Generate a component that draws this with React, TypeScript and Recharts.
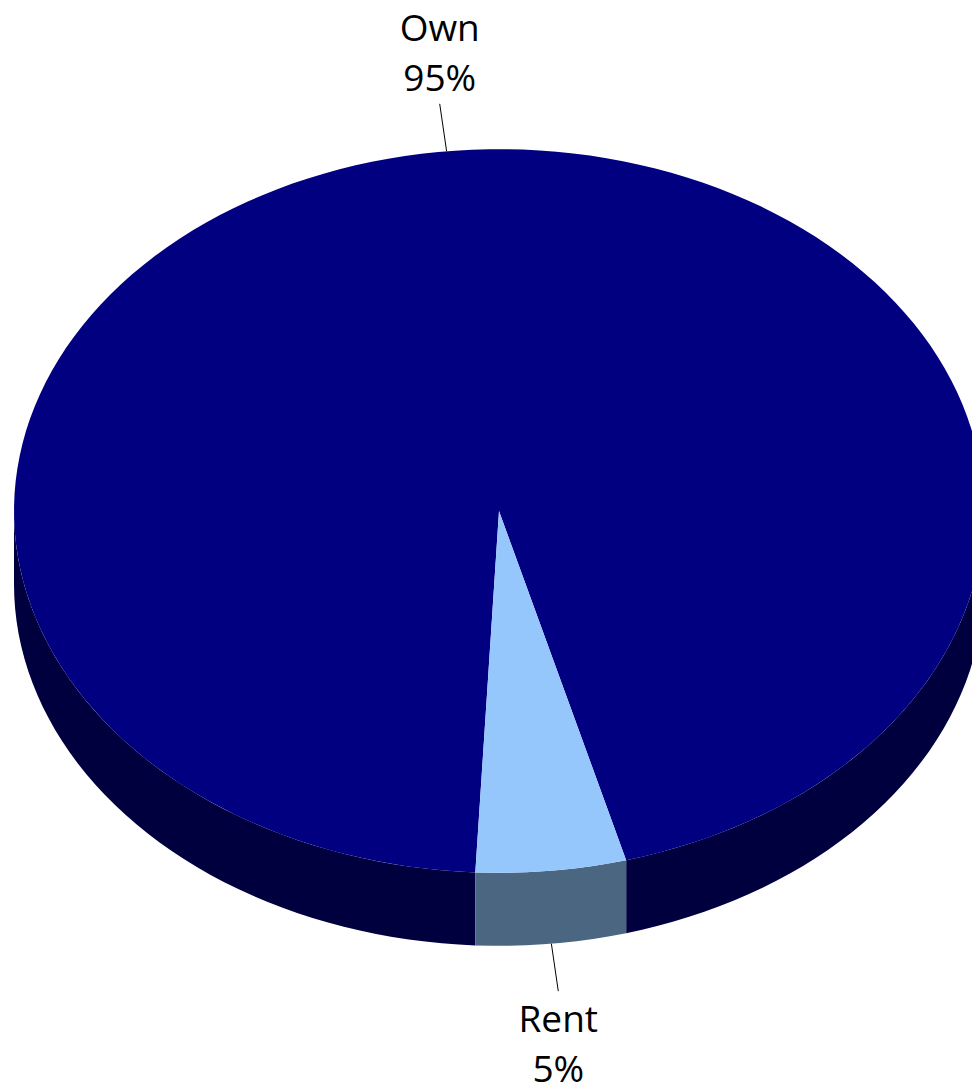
import { PieChart, Pie, Cell } from 'recharts'

const categories = ['Own', 'Rent']
const values = [95, 5]

const TOP_COLORS = ['#000080', '#95C7FD']
const SIDE_COLORS = ['#00003F', '#4A6680']

const data = categories.map((name, i) => ({ name, value: values[i] }))

const K = 0.746 // ellipse flattening
const DEPTH = 73
const RAD = Math.PI / 180

function pt(cx: number, cy: number, r: number, deg: number, dy = 0) {
  return [cx + r * Math.cos(deg * RAD), cy - r * K * Math.sin(deg * RAD) + dy]
}

function arcPoints(cx: number, cy: number, r: number, a1: number, a2: number, dy = 0) {
  const n = Math.max(2, Math.ceil(Math.abs(a2 - a1) / 2))
  const out: number[][] = []
  for (let i = 0; i <= n; i++) out.push(pt(cx, cy, r, a1 + ((a2 - a1) * i) / n, dy))
  return out
}

function Slice3D(props: any) {
  const { cx, cy, outerRadius, startAngle, endAngle, name, fill } = props
  const idx = categories.indexOf(name)
  const lo = Math.min(startAngle, endAngle)
  const hi = Math.max(startAngle, endAngle)

  // visible side wall = parts of the slice in the lower half of the ellipse
  const walls: string[] = []
  for (let k = -3; k <= 2; k++) {
    const a = Math.max(lo, 180 + 360 * k)
    const b = Math.min(hi, 360 + 360 * k)
    if (b <= a) continue
    const top = arcPoints(cx, cy, outerRadius, a, b)
    const bot = arcPoints(cx, cy, outerRadius, b, a, DEPTH)
    walls.push('M' + [...top, ...bot].map((p) => p.join(',')).join('L') + 'Z')
  }

  const face = arcPoints(cx, cy, outerRadius, startAngle, endAngle)
  const faceD = `M${cx},${cy}L` + face.map((p) => p.join(',')).join('L') + 'Z'

  return (
    <g>
      {walls.map((d, i) => (
        <path key={i} d={d} fill={SIDE_COLORS[idx]} stroke="none" />
      ))}
      <path d={faceD} fill={fill} stroke="none" />
    </g>
  )
}

function renderLabel(props: any) {
  const { cx, cy, outerRadius, midAngle, name, percent } = props
  const lower = Math.sin(midAngle * RAD) < 0
  const dy = lower ? DEPTH : 0
  const [x1, y1] = pt(cx, cy, outerRadius, midAngle, dy)
  const [x2, y2] = pt(cx, cy, outerRadius + 64, midAngle, dy)
  const pct = `${Math.round(percent * 100)}%`
  const t1 = lower ? y2 + 41 : y2 - 63
  return (
    <g>
      <line x1={x1} y1={y1} x2={x2} y2={y2} stroke="#000" strokeWidth={1} />
      <text x={x2} y={t1} textAnchor="middle" fontSize={37} fill="#000" fontFamily="'Open Sans', sans-serif">
        {name}
      </text>
      <text x={x2} y={t1 + 50} textAnchor="middle" fontSize={37} fill="#000" fontFamily="'Open Sans', sans-serif">
        {pct}
      </text>
    </g>
  )
}

export default function App() {
  return (
    <div style={{ position: 'absolute', left: 0, top: 0, background: '#fff' }}>
      <PieChart width={972} height={1089} margin={{ top: 0, right: 0, bottom: 0, left: 0 }}>
        <Pie
          data={data}
          dataKey="value"
          nameKey="name"
          cx={499}
          cy={511}
          outerRadius={485}
          startAngle={-92.8}
          endAngle={-452.8}
          isAnimationActive={false}
          shape={Slice3D}
          inactiveShape={Slice3D}
          activeShape={Slice3D}
          label={renderLabel}
          labelLine={false}
          stroke="none"
        >
          {data.map((d, i) => (
            <Cell key={d.name} fill={TOP_COLORS[i]} />
          ))}
        </Pie>
      </PieChart>
    </div>
  )
}
